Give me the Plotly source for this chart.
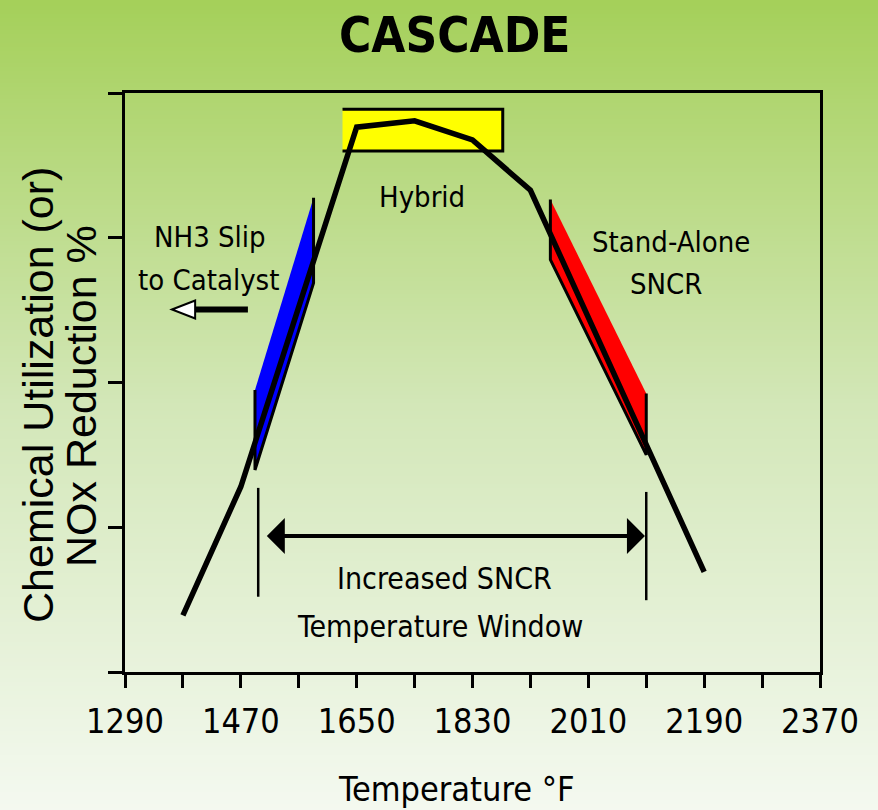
import base64, struct, zlib
import plotly.graph_objects as go

# ---------------- data ----------------
x_tick_vals = [1290, 1380, 1470, 1560, 1650, 1740, 1830, 1920, 2010, 2100, 2190, 2280, 2370]
x_tick_text = ["1290", "", "1470", "", "1650", "", "1830", "", "2010", "", "2190", "", "2370"]
y_tick_vals = [0, 25, 50, 75, 100]

curve_temp = [1380, 1470, 1650, 1740, 1830, 1920, 2190]
curve_val = [9.8, 32.0, 94.1, 95.2, 91.9, 83.2, 17.3]

hybrid_temp = [1628, 1877, 1877, 1628]
hybrid_val = [97.2, 97.2, 90.0, 90.0]

nh3_temp = [1583, 1583, 1492, 1492]
nh3_val = [81.9, 67.2, 34.9, 48.7]

sncr_temp = [1951, 1951, 2100, 2100]
sncr_val = [81.6, 71.2, 37.5, 48.1]

window_edge_temp = [1497, 2100]
window_edge_top = [31.8, 31.1]
window_edge_bottom = [13.0, 12.4]
window_arrow_temp = [1508, 2098]
window_arrow_val = 23.5

slip_arrow_tip_temp = 1363
slip_arrow_base_temp = 1399
slip_arrow_tail_temp = 1481
slip_arrow_val = 62.6
slip_arrow_half = 1.55

NARROW = "DejaVu Sans Condensed, Liberation Sans, sans-serif"
REG = "Liberation Sans, Arial, sans-serif"

# ---------------- gradient background image ----------------
def gradient_png(h=200):
    stops = [(0.0, (165, 208, 90)), (0.5, (211, 231, 184)), (1.0, (244, 249, 240))]
    raw = b""
    for i in range(h):
        t = i / (h - 1)
        for j in range(len(stops) - 1):
            if stops[j][0] <= t <= stops[j + 1][0]:
                a, ca = stops[j]; b, cb = stops[j + 1]
                f = (t - a) / (b - a)
                c = tuple(int(round(ca[k] + (cb[k] - ca[k]) * f)) for k in range(3))
                break
        raw += b"\x00" + bytes(c)
    def chunk(tag, data):
        return struct.pack(">I", len(data)) + tag + data + struct.pack(">I", zlib.crc32(tag + data) & 0xffffffff)
    png = b"\x89PNG\r\n\x1a\n" + chunk(b"IHDR", struct.pack(">IIBBBBB", 1, h, 8, 2, 0, 0, 0)) \
        + chunk(b"IDAT", zlib.compress(raw)) + chunk(b"IEND", b"")
    return "data:image/png;base64," + base64.b64encode(png).decode()

W, H = 878, 810
L, R, T, B = 125, 58, 93, 138
PW, PH = W - L - R, H - T - B

fig = go.Figure()

# zones
fig.add_trace(go.Scatter(x=hybrid_temp, y=hybrid_val, fill="toself", fillcolor="#ffff00",
                         mode="lines", line=dict(color="black", width=3), hoverinfo="skip"))
fig.add_trace(go.Scatter(x=nh3_temp, y=nh3_val, fill="toself", fillcolor="#0000ff",
                         mode="lines", line=dict(color="black", width=3), hoverinfo="skip"))
fig.add_trace(go.Scatter(x=sncr_temp, y=sncr_val, fill="toself", fillcolor="#ff0000",
                         mode="lines", line=dict(color="black", width=3), hoverinfo="skip"))
# window edges
for xt, y0, y1 in zip(window_edge_temp, window_edge_top, window_edge_bottom):
    fig.add_trace(go.Scatter(x=[xt, xt], y=[y0, y1], mode="lines",
                             line=dict(color="black", width=2.5), hoverinfo="skip"))
# main curve
fig.add_trace(go.Scatter(x=curve_temp, y=curve_val, mode="lines",
                         line=dict(color="black", width=5.5), hoverinfo="skip"))
# slip arrow shaft
fig.add_trace(go.Scatter(x=[slip_arrow_base_temp, slip_arrow_tail_temp], y=[slip_arrow_val] * 2,
                         mode="lines", line=dict(color="black", width=6), hoverinfo="skip"))

shapes = [dict(type="path", xref="x", yref="y",
               path=f"M {slip_arrow_tip_temp},{slip_arrow_val} L {slip_arrow_base_temp},{slip_arrow_val + slip_arrow_half} "
                    f"L {slip_arrow_base_temp},{slip_arrow_val - slip_arrow_half} Z",
               fillcolor="white", line=dict(color="black", width=2), layer="above")]

ann = []
# double arrow
ann.append(dict(x=window_arrow_temp[1], y=window_arrow_val, ax=window_arrow_temp[0], ay=window_arrow_val,
                xref="x", yref="y", axref="x", ayref="y", text="", showarrow=True,
                arrowhead=1, startarrowhead=1, arrowside="end+start", arrowsize=1.5, startarrowsize=1.5,
                arrowwidth=4, arrowcolor="black"))

def txt(t, x, y, size, font=NARROW, **kw):
    d = dict(text=t, x=x, y=y, xref="x", yref="y", showarrow=False,
             font=dict(family=font, size=size, color="black"), xanchor="center", yanchor="middle")
    d.update(kw)
    ann.append(d)

txt("Hybrid", 1751, 82.0, 29)
txt("NH3 Slip", 1422, 75.1, 29)
txt("to Catalyst", 1419, 67.7, 29)
txt("Stand-Alone", 2138, 74.3, 29)
txt("SNCR", 2131, 67.0, 29)
txt("Increased SNCR", 1787, 16.2, 30)
txt("Temperature Window", 1780, 7.8, 30)

def px_x(px):
    return (px - L) / PW

def px_y(py):
    return (H - B - py) / PH

ann.append(dict(text="<b>CASCADE</b>", x=px_x(454.5), y=px_y(35), xref="paper", yref="paper",
                showarrow=False, font=dict(family=NARROW, size=49, color="black"),
                xanchor="center", yanchor="middle"))
ann.append(dict(text="Temperature °F", x=px_x(456), y=px_y(789), xref="paper", yref="paper",
                showarrow=False, font=dict(family=NARROW, size=34, color="black"),
                xanchor="center", yanchor="middle"))
ann.append(dict(text="Chemical Utilization (or)", x=px_x(38), y=px_y(395), xref="paper", yref="paper",
                showarrow=False, textangle=-90, font=dict(family=REG, size=43, color="black"),
                xanchor="center", yanchor="middle"))
ann.append(dict(text="NOx Reduction %", x=px_x(81), y=px_y(396), xref="paper", yref="paper",
                showarrow=False, textangle=-90, font=dict(family=REG, size=43, color="black"),
                xanchor="center", yanchor="middle"))

fig.update_layout(
    width=W, height=H, margin=dict(l=L, r=R, t=T, b=B),
    showlegend=False,
    paper_bgcolor="#d3e7b8", plot_bgcolor="rgba(0,0,0,0)",
    images=[dict(source=gradient_png(), xref="paper", yref="paper",
                 x=-L / PW, y=1 + T / PH, sizex=W / PW, sizey=H / PH,
                 xanchor="left", yanchor="top", sizing="stretch", layer="below")],
    shapes=shapes, annotations=ann,
    xaxis=dict(range=[1290, 2370], tickvals=x_tick_vals, ticktext=x_tick_text,
               ticks="outside", ticklen=13, tickwidth=3, tickcolor="black",
               showline=True, linewidth=3, linecolor="black", mirror=True,
               showgrid=False, zeroline=False, ticklabelstandoff=4,
               tickfont=dict(family=NARROW, size=34, color="black")),
    yaxis=dict(range=[0, 100], tickvals=y_tick_vals, showticklabels=False,
               ticks="outside", ticklen=14, tickwidth=3, tickcolor="black",
               showline=True, linewidth=3, linecolor="black", mirror=True,
               showgrid=False, zeroline=False),
)

fig.write_html("out.html", config={"displayModeBar": False},
               post_script="document.body.style.margin='0';document.body.style.padding='0';")
